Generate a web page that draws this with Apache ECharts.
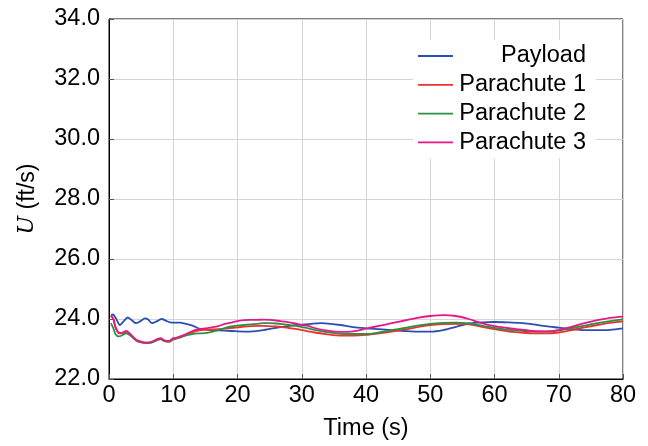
<!DOCTYPE html>
<html>
<head>
<meta charset="utf-8">
<script src="https://cdn.jsdelivr.net/npm/echarts@6/dist/echarts.min.js"></script>
<style>
  html, body { margin: 0; padding: 0; background: #fff; }
  #chart { width: 648px; height: 446px; }
</style>
</head>
<body>
<div id="chart"></div>
<script>
// Forward velocity U of the payload and the three parachutes over time
const payloadTime = [0.3, 0.6, 1.1, 1.7, 2.3, 2.9, 3.5, 4.2, 4.9, 5.6,
  6.1, 6.7, 7.4, 8.2, 8.9, 9.5, 10.3, 11, 12, 13,
  13.8, 14.5, 15.5, 17, 19, 21, 22.5, 24, 25.5, 27,
  28.5, 30, 31.5, 33, 34.5, 36, 38, 40, 42, 44,
  46, 48, 50, 52, 54, 56, 58, 60, 62, 64,
  66, 68, 70, 72, 74, 76, 78, 80];
const payloadU = [24.11, 24.15, 24.02, 23.8, 23.93, 24.05, 23.97, 23.86, 23.93, 24.02,
  23.98, 23.86, 23.92, 24.0, 23.94, 23.89, 23.88, 23.88, 23.84, 23.78,
  23.7, 23.66, 23.64, 23.62, 23.6, 23.58, 23.59, 23.63, 23.69, 23.74,
  23.78, 23.81, 23.84, 23.86, 23.84, 23.8, 23.73, 23.69, 23.66, 23.63,
  23.6, 23.58, 23.58, 23.63, 23.74, 23.85, 23.89, 23.9, 23.89, 23.87,
  23.82, 23.76, 23.71, 23.66, 23.63, 23.63, 23.64, 23.69];

const chuteTime = [0.3, 0.7, 1.0, 1.5, 2.0, 2.7, 3.3, 4.3, 5.0, 5.8,
  6.6, 7.5, 8.0, 8.7, 9.3, 10.0, 10.5, 11, 12, 13,
  14, 15, 16, 17, 18, 19, 20, 21, 22, 23, 24, 25, 26, 27, 28, 29, 30, 31,
  32, 34, 36, 38, 40, 42, 44, 46, 48, 50,
  52, 54, 56, 58, 60, 62, 64, 66, 68, 70, 72, 74, 76, 78, 80];
const chute1U = [24.1, 23.98, 23.72, 23.53, 23.52, 23.58, 23.48, 23.27, 23.22, 23.2,
  23.22, 23.3, 23.33, 23.26, 23.24, 23.32, 23.35, 23.39, 23.47, 23.56,
  23.62, 23.64, 23.65, 23.66, 23.68, 23.7, 23.72, 23.75, 23.76, 23.77, 23.77, 23.76, 23.75, 23.73, 23.7, 23.67, 23.63, 23.59,
  23.55, 23.49, 23.45, 23.45, 23.47, 23.52, 23.58, 23.65, 23.73, 23.8,
  23.83, 23.84, 23.82, 23.74, 23.66, 23.59, 23.55, 23.52, 23.52, 23.55, 23.63, 23.72, 23.8, 23.87, 23.92];
const chute2U = [23.86, 23.68, 23.5, 23.42, 23.45, 23.52, 23.45, 23.28, 23.23, 23.2,
  23.21, 23.3, 23.33, 23.26, 23.25, 23.32, 23.35, 23.38, 23.45, 23.5,
  23.52, 23.53, 23.57, 23.63, 23.7, 23.75, 23.78, 23.8, 23.82, 23.84, 23.86, 23.86, 23.85, 23.83, 23.8, 23.77, 23.73, 23.69,
  23.64, 23.56, 23.51, 23.5, 23.5, 23.55, 23.63, 23.7, 23.78, 23.84,
  23.87, 23.88, 23.85, 23.78, 23.7, 23.64, 23.61, 23.58, 23.58, 23.62, 23.7, 23.78, 23.86, 23.93, 23.99];
const chute3U = [24.11, 24.0, 23.75, 23.55, 23.54, 23.6, 23.5, 23.3, 23.25, 23.22,
  23.24, 23.33, 23.36, 23.28, 23.27, 23.36, 23.38, 23.41, 23.5, 23.6,
  23.66, 23.69, 23.72, 23.76, 23.84, 23.88, 23.93, 23.96, 23.97, 23.97, 23.98, 23.97, 23.95, 23.92, 23.89, 23.85, 23.8, 23.77,
  23.7, 23.61, 23.57, 23.59, 23.68, 23.77, 23.86, 23.95, 24.04, 24.1,
  24.13, 24.1, 24.0, 23.86, 23.76, 23.7, 23.65, 23.6, 23.59, 23.63, 23.74, 23.86, 23.96, 24.04, 24.08];

const seriesNames = ['Payload', 'Parachute 1', 'Parachute 2', 'Parachute 3'];
const seriesColors = ['#2b4fb0', '#f0302c', '#2a9240', '#e8168a'];

const pairs = (ts, vs) => ts.map((t, i) => [t, vs[i]]);
const seriesData = [
  pairs(payloadTime, payloadU),
  pairs(chuteTime, chute1U),
  pairs(chuteTime, chute2U),
  pairs(chuteTime, chute3U)
];

const FONT = 'Liberation Sans, Arial, sans-serif';

const chart = echarts.init(document.getElementById('chart'), null, { renderer: 'canvas' });
chart.setOption({
  animation: false,
  backgroundColor: '#fff',
  grid: { left: 109, right: 25, top: 19, bottom: 65, show: true, borderColor: '#000', borderWidth: 1 },
  legend: {
    orient: 'vertical',
    left: 413,
    top: 40,
    padding: [4, 10, 4, 5],
    backgroundColor: '#fff',
    icon: 'rect',
    itemWidth: 35,
    itemHeight: 1.8,
    itemGap: 4.8,
    data: seriesNames,
    formatter: name => '{t|' + name + '}',
    textStyle: {
      rich: {
        t: { fontFamily: FONT, fontSize: 23.5, color: '#000', width: 128, align: 'right', lineHeight: 26 }
      }
    }
  },
  xAxis: {
    type: 'value',
    min: 0, max: 80, interval: 10,
    name: 'Time (s)',
    nameLocation: 'middle',
    nameGap: 38,
    nameTextStyle: { fontFamily: FONT, fontSize: 23.5, color: '#000' },
    axisLine: { show: true, onZero: false, lineStyle: { color: '#000', width: 1 } },
    axisTick: { show: true, inside: true, length: 5, lineStyle: { color: '#555' } },
    axisLabel: { fontFamily: FONT, fontSize: 23.5, color: '#000', margin: 5 },
    splitLine: { show: true, lineStyle: { color: '#d4d4d4', width: 1 } }
  },
  yAxis: {
    type: 'value',
    min: 22, max: 34, interval: 2,
    name: '{i|U} (ft/s)',
    nameLocation: 'middle',
    nameGap: 70,
    nameRotate: 90,
    nameTextStyle: {
      fontFamily: FONT, fontSize: 23, color: '#000',
      rich: {
        i: { fontFamily: 'DejaVu Serif, Liberation Serif, serif', fontStyle: 'italic', fontSize: 22, color: '#000' }
      }
    },
    axisLine: { show: true, onZero: false, lineStyle: { color: '#000', width: 1 } },
    axisTick: { show: true, inside: true, length: 5, lineStyle: { color: '#555' } },
    axisLabel: { fontFamily: FONT, fontSize: 23.5, color: '#000', margin: 9, formatter: v => v.toFixed(1) },
    splitLine: { show: true, lineStyle: { color: '#d4d4d4', width: 1 } }
  },
  series: seriesNames.map((name, k) => ({
    name: name,
    type: 'line',
    data: seriesData[k],
    symbol: 'none',
    smooth: 0.3,
    color: seriesColors[k],
    lineStyle: { width: 1.8, color: seriesColors[k] }
  }))
});
</script>
</body>
</html>
